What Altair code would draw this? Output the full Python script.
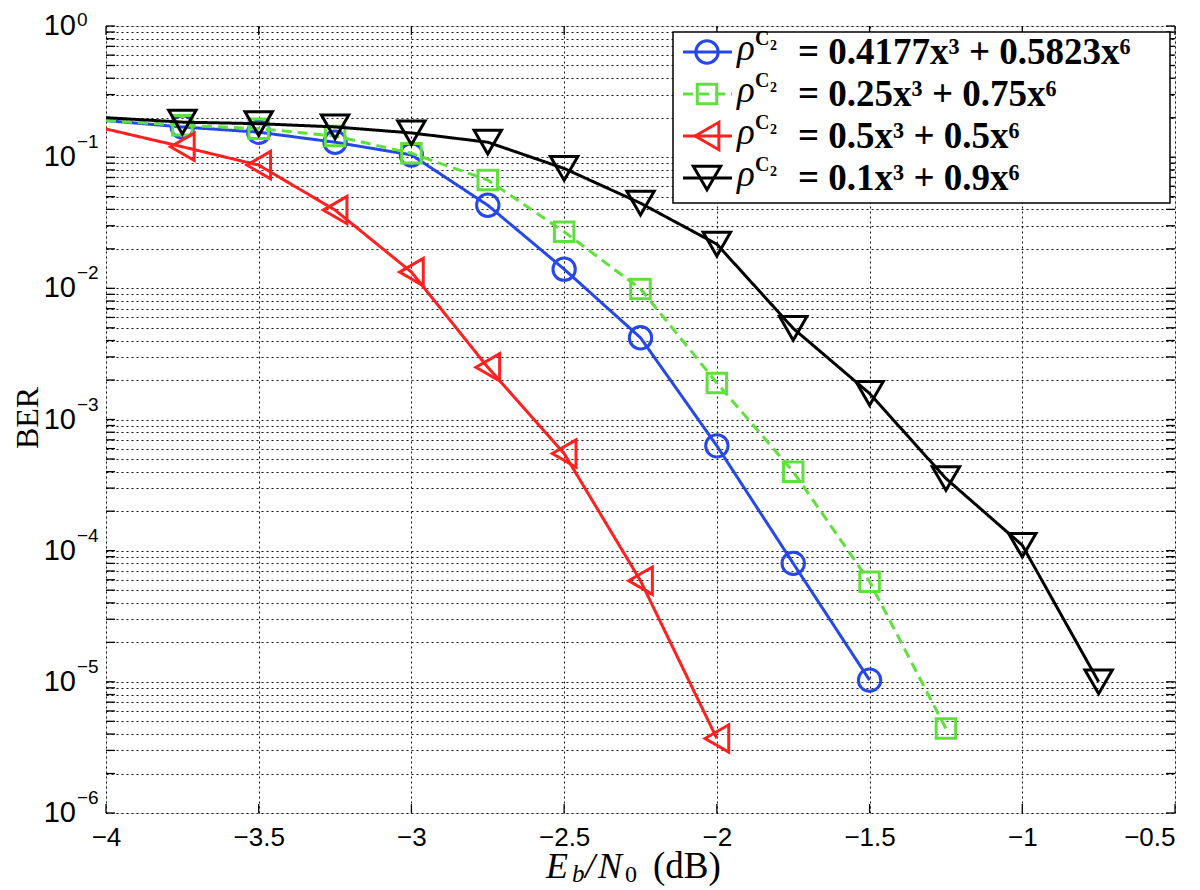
import altair as alt
import pandas as pd

# ---------------- data ----------------
x_db = [-4.0, -3.75, -3.5, -3.25, -3.0, -2.75, -2.5, -2.25, -2.0, -1.75, -1.5, -1.25, -1.0, -0.75]

ber_4177 = [0.19, 0.17, 0.155, 0.13, 0.104, 0.043, 0.014, 0.0042, 0.00063, 8.0e-5, 1.03e-5]
ber_025 = [0.19, 0.175, 0.165, 0.145, 0.107, 0.067, 0.027, 0.0099, 0.0019, 0.00040, 5.8e-5, 4.4e-6]
ber_05 = [0.164, 0.12, 0.087, 0.0395, 0.0133, 0.0025, 0.00055, 5.9e-5, 3.7e-6]
ber_01 = [0.20, 0.185, 0.18, 0.17, 0.153, 0.13, 0.082, 0.0446, 0.0217, 0.00495, 0.00158, 0.000355, 0.00011, 1.0e-5]

series_names = ["a", "b", "c", "d"]
series_values = [ber_4177, ber_025, ber_05, ber_01]
legend_rhs = ["= 0.4177x³ + 0.5823x⁶", "= 0.25x³ + 0.75x⁶", "= 0.5x³ + 0.5x⁶", "= 0.1x³ + 0.9x⁶"]
colors = ["#2748e8", "#5fe03c", "#ff2020", "#000000"]
shapes = ["circle", "square", "triangle-left", "triangle-down"]
sizes = [500, 380, 750, 750]
dashes = [[1, 0], [10, 6], [1, 0], [1, 0]]

x_ticks = [-4.0, -3.5, -3.0, -2.5, -2.0, -1.5, -1.0, -0.5]
y_decades = [1e-6, 1e-5, 1e-4, 1e-3, 1e-2, 1e-1, 1.0]
y_exp_labels = ["−6", "−5", "−4", "−3", "−2", "−1", "0"]
y_minor = [m * 10.0 ** e for e in range(-6, 0) for m in range(1, 10)] + [1.0]

W, H = 1069, 787

# ---------------- scales / axes ----------------
xscale = alt.Scale(domain=[-4, -0.5], nice=False, zero=False)
yscale = alt.Scale(type="log", domain=[1e-6, 1], nice=False)

xaxis = alt.Axis(
    values=x_ticks, format="~g", grid=True, gridDash=[2, 3], gridColor="#111",
    gridWidth=1, ticks=False, domain=False, labelFont="Liberation Sans",
    labelFontSize=26, labelColor="black", labelPadding=11, labelOverlap=False,
    labelBound=False, title=None,
    labelAlign={"condition": {"test": "datum.value == -0.5", "value": "right"}, "value": "center"},
)
yaxis = alt.Axis(
    values=y_minor, labels=False, ticks=False, domain=False, grid=True,
    gridDash=[2, 3], gridColor="#111", gridWidth=1, title=None,
)

X = alt.X("x:Q", scale=xscale, axis=xaxis)
Y = alt.Y("ber:Q", scale=yscale, axis=yaxis)

layers = []

# series lines + markers
for name, vals, col, shp, sz, dsh in zip(series_names, series_values, colors, shapes, sizes, dashes):
    df = pd.DataFrame({"x": x_db[: len(vals)], "ber": vals})
    layers.append(
        alt.Chart(df).mark_line(color=col, strokeWidth=3, strokeDash=dsh).encode(x=X, y=Y)
    )
    layers.append(
        alt.Chart(df).mark_point(shape=shp, size=sz, filled=False, color=col, strokeWidth=3, opacity=1)
        .encode(x=X, y=Y)
        .transform_filter("datum.x > -4")
    )

# inside tick marks (box style)
df_yt = pd.DataFrame({"ber": y_minor})
df_xt = pd.DataFrame({"x": x_ticks})
layers.append(alt.Chart(df_yt).mark_rule(color="black", strokeWidth=1.3).encode(y=Y, x=alt.value(0), x2=alt.value(9)))
layers.append(alt.Chart(df_yt).mark_rule(color="black", strokeWidth=1.3).encode(y=Y, x=alt.value(W - 9), x2=alt.value(W)))
layers.append(alt.Chart(df_xt).mark_rule(color="black", strokeWidth=1.3).encode(x=X, y=alt.value(H - 9), y2=alt.value(H)))
layers.append(alt.Chart(df_xt).mark_rule(color="black", strokeWidth=1.3).encode(x=X, y=alt.value(0), y2=alt.value(9)))

# y tick labels 10^k
df_dec = pd.DataFrame({"ber": y_decades, "base": ["10"] * len(y_decades), "exp": y_exp_labels})
layers.append(
    alt.Chart(df_dec).mark_text(align="right", baseline="middle", font="Liberation Sans", fontSize=29, color="black")
    .encode(y=Y, x=alt.value(-30), text="base:N")
)
layers.append(
    alt.Chart(df_dec).mark_text(align="left", baseline="alphabetic", font="Liberation Sans", fontSize=19, dy=-9, color="black")
    .encode(y=Y, x=alt.value(-29), text="exp:N")
    .transform_filter("datum.ber < 0.5")
)
layers.append(
    alt.Chart(df_dec).mark_text(align="left", baseline="top", font="Liberation Sans", fontSize=19, dy=-15, color="black")
    .encode(y=Y, x=alt.value(-29), text="exp:N")
    .transform_filter("datum.ber > 0.5")
)

one = pd.DataFrame({"k": [0]})


def txt(s, x, y, size, style="normal", weight="normal", font="Liberation Serif", align="left", angle=0, baseline="alphabetic"):
    return alt.Chart(one).mark_text(
        text=s, fontSize=size, fontStyle=style, fontWeight=weight, font=font,
        align=align, baseline=baseline, angle=angle, color="black",
    ).encode(x=alt.value(x), y=alt.value(y))


# axis titles
layers.append(txt("BER", -78, 392, 32, angle=270, align="center", baseline="middle"))
layers.append(txt("E", 440, 852, 36, style="italic"))
layers.append(txt("b", 466, 856, 25, style="italic"))
layers.append(txt("/", 479, 852, 36, style="italic"))
layers.append(txt("N", 492, 852, 36, style="italic"))
layers.append(txt("0", 519, 856, 24))
layers.append(txt("(dB)", 547, 852, 37))

# legend box
layers.append(
    alt.Chart(one).mark_rect(fill="white", stroke="black", strokeWidth=1.5)
    .encode(x=alt.value(567), x2=alt.value(1064), y=alt.value(6), y2=alt.value(177))
)
for i in range(4):
    ry = 26 + 42 * i
    layers.append(
        alt.Chart(one).mark_rule(color=colors[i], strokeWidth=3, strokeDash=dashes[i])
        .encode(x=alt.value(577), x2=alt.value(626), y=alt.value(ry))
    )
    layers.append(
        alt.Chart(one).mark_point(shape=shapes[i], size=sizes[i], filled=False, color=colors[i], strokeWidth=3, opacity=1)
        .encode(x=alt.value(601), y=alt.value(ry))
    )
    layers.append(txt("ρ", 631, ry + 8, 37, style="italic"))
    layers.append(txt("C", 649, ry - 7, 20, weight="bold"))
    layers.append(txt("2", 664, ry - 2, 14, weight="bold"))
    layers.append(txt(legend_rhs[i], 692, ry + 12, 37, weight="bold"))

chart = (
    alt.layer(*layers)
    .properties(
        width=W, height=H,
        autosize=alt.AutoSizeParams(type="none"),
        padding={"left": 98, "top": 18, "right": 9, "bottom": 73},
    )
    .configure_view(stroke="black", strokeWidth=1.5)
    .configure(background="white")
)

chart.save("out.html", embed_options={"renderer": "svg", "actions": False})
